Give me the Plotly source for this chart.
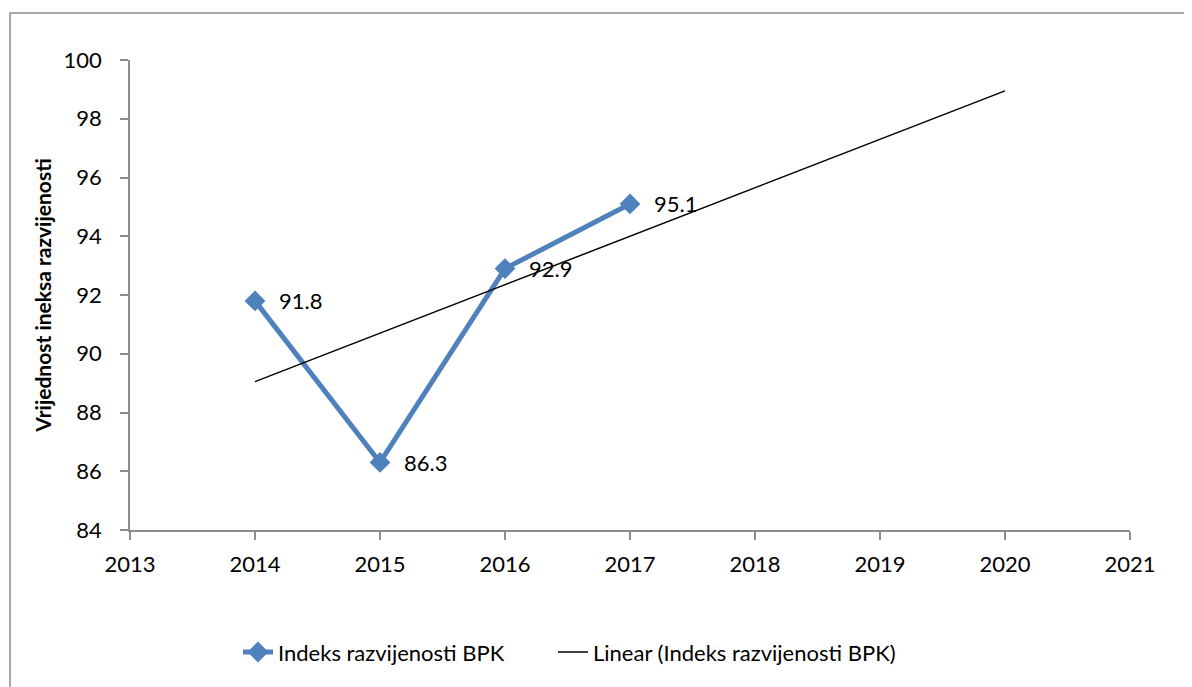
import numpy as np
import plotly.graph_objects as go

years = [2014, 2015, 2016, 2017]
values = [91.8, 86.3, 92.9, 95.1]
series_name = "Indeks razvijenosti BPK"
trend_name = "Linear (Indeks razvijenosti BPK)"
y_title = "Vrijednost ineksa razvijenosti"
x_ticks = list(range(2013, 2022))
y_ticks = list(range(84, 101, 2))

# linear trend (least squares), forecast forward to 2020
slope, intercept = np.polyfit(years, values, 1)
trend_x = [2014, 2020]
trend_y = [slope * x + intercept for x in trend_x]

FONT = "Lato, 'Open Sans', sans-serif"

fig = go.Figure()
fig.add_trace(go.Scatter(
    x=years, y=values, mode="lines+markers", name=series_name,
    line=dict(color="#4F81BD", width=5),
    marker=dict(symbol="diamond", size=16, color="#4F81BD"),
    legend="legend",
))
fig.add_trace(go.Scatter(
    x=trend_x, y=trend_y, mode="lines", name=trend_name,
    line=dict(color="black", width=1.5),
    legend="legend2",
))

for x, y in zip(years, values):
    fig.add_annotation(x=x, y=y, text=f"{y:.1f}", showarrow=False,
                       xanchor="left", yanchor="middle", xshift=22,
                       font=dict(size=22, color="black", family=FONT))

fig.add_shape(type="rect", xref="paper", yref="paper",
              x0=-0.12, x1=1.1, y0=-0.4, y1=1.1,
              line=dict(color="#8c8c8c", width=1.5), fillcolor="rgba(0,0,0,0)",
              layer="below")

leg_common = dict(orientation="h", yanchor="middle", y=-0.26, xanchor="left",
                  font=dict(size=22, family=FONT), bgcolor="rgba(0,0,0,0)")

fig.update_layout(
    width=1184, height=679,
    margin=dict(l=122, r=62, t=52, b=157),
    plot_bgcolor="white", paper_bgcolor="white",
    font=dict(family=FONT, size=22, color="black"),
    showlegend=True,
    legend=dict(x=0.108, **leg_common),
    legend2=dict(x=0.423, **leg_common),
    xaxis=dict(range=[2013, 2021], tickvals=x_ticks, showgrid=False, zeroline=False,
               showline=True, linecolor="#8c8c8c", linewidth=1.5,
               ticks="outside", ticklen=8, tickcolor="#8c8c8c", tickwidth=1.5,
               ticklabelstandoff=6),
    yaxis=dict(range=[84, 100], tickvals=y_ticks, showgrid=False, zeroline=False,
               showline=True, linecolor="#8c8c8c", linewidth=1.5,
               ticks="outside", ticklen=8, tickcolor="#8c8c8c", tickwidth=1.5,
               ticklabelstandoff=14,
               title=dict(text="<b>" + y_title + "</b>", standoff=6,
                          font=dict(size=21, family=FONT))),
)

fig.write_html("out.html")
